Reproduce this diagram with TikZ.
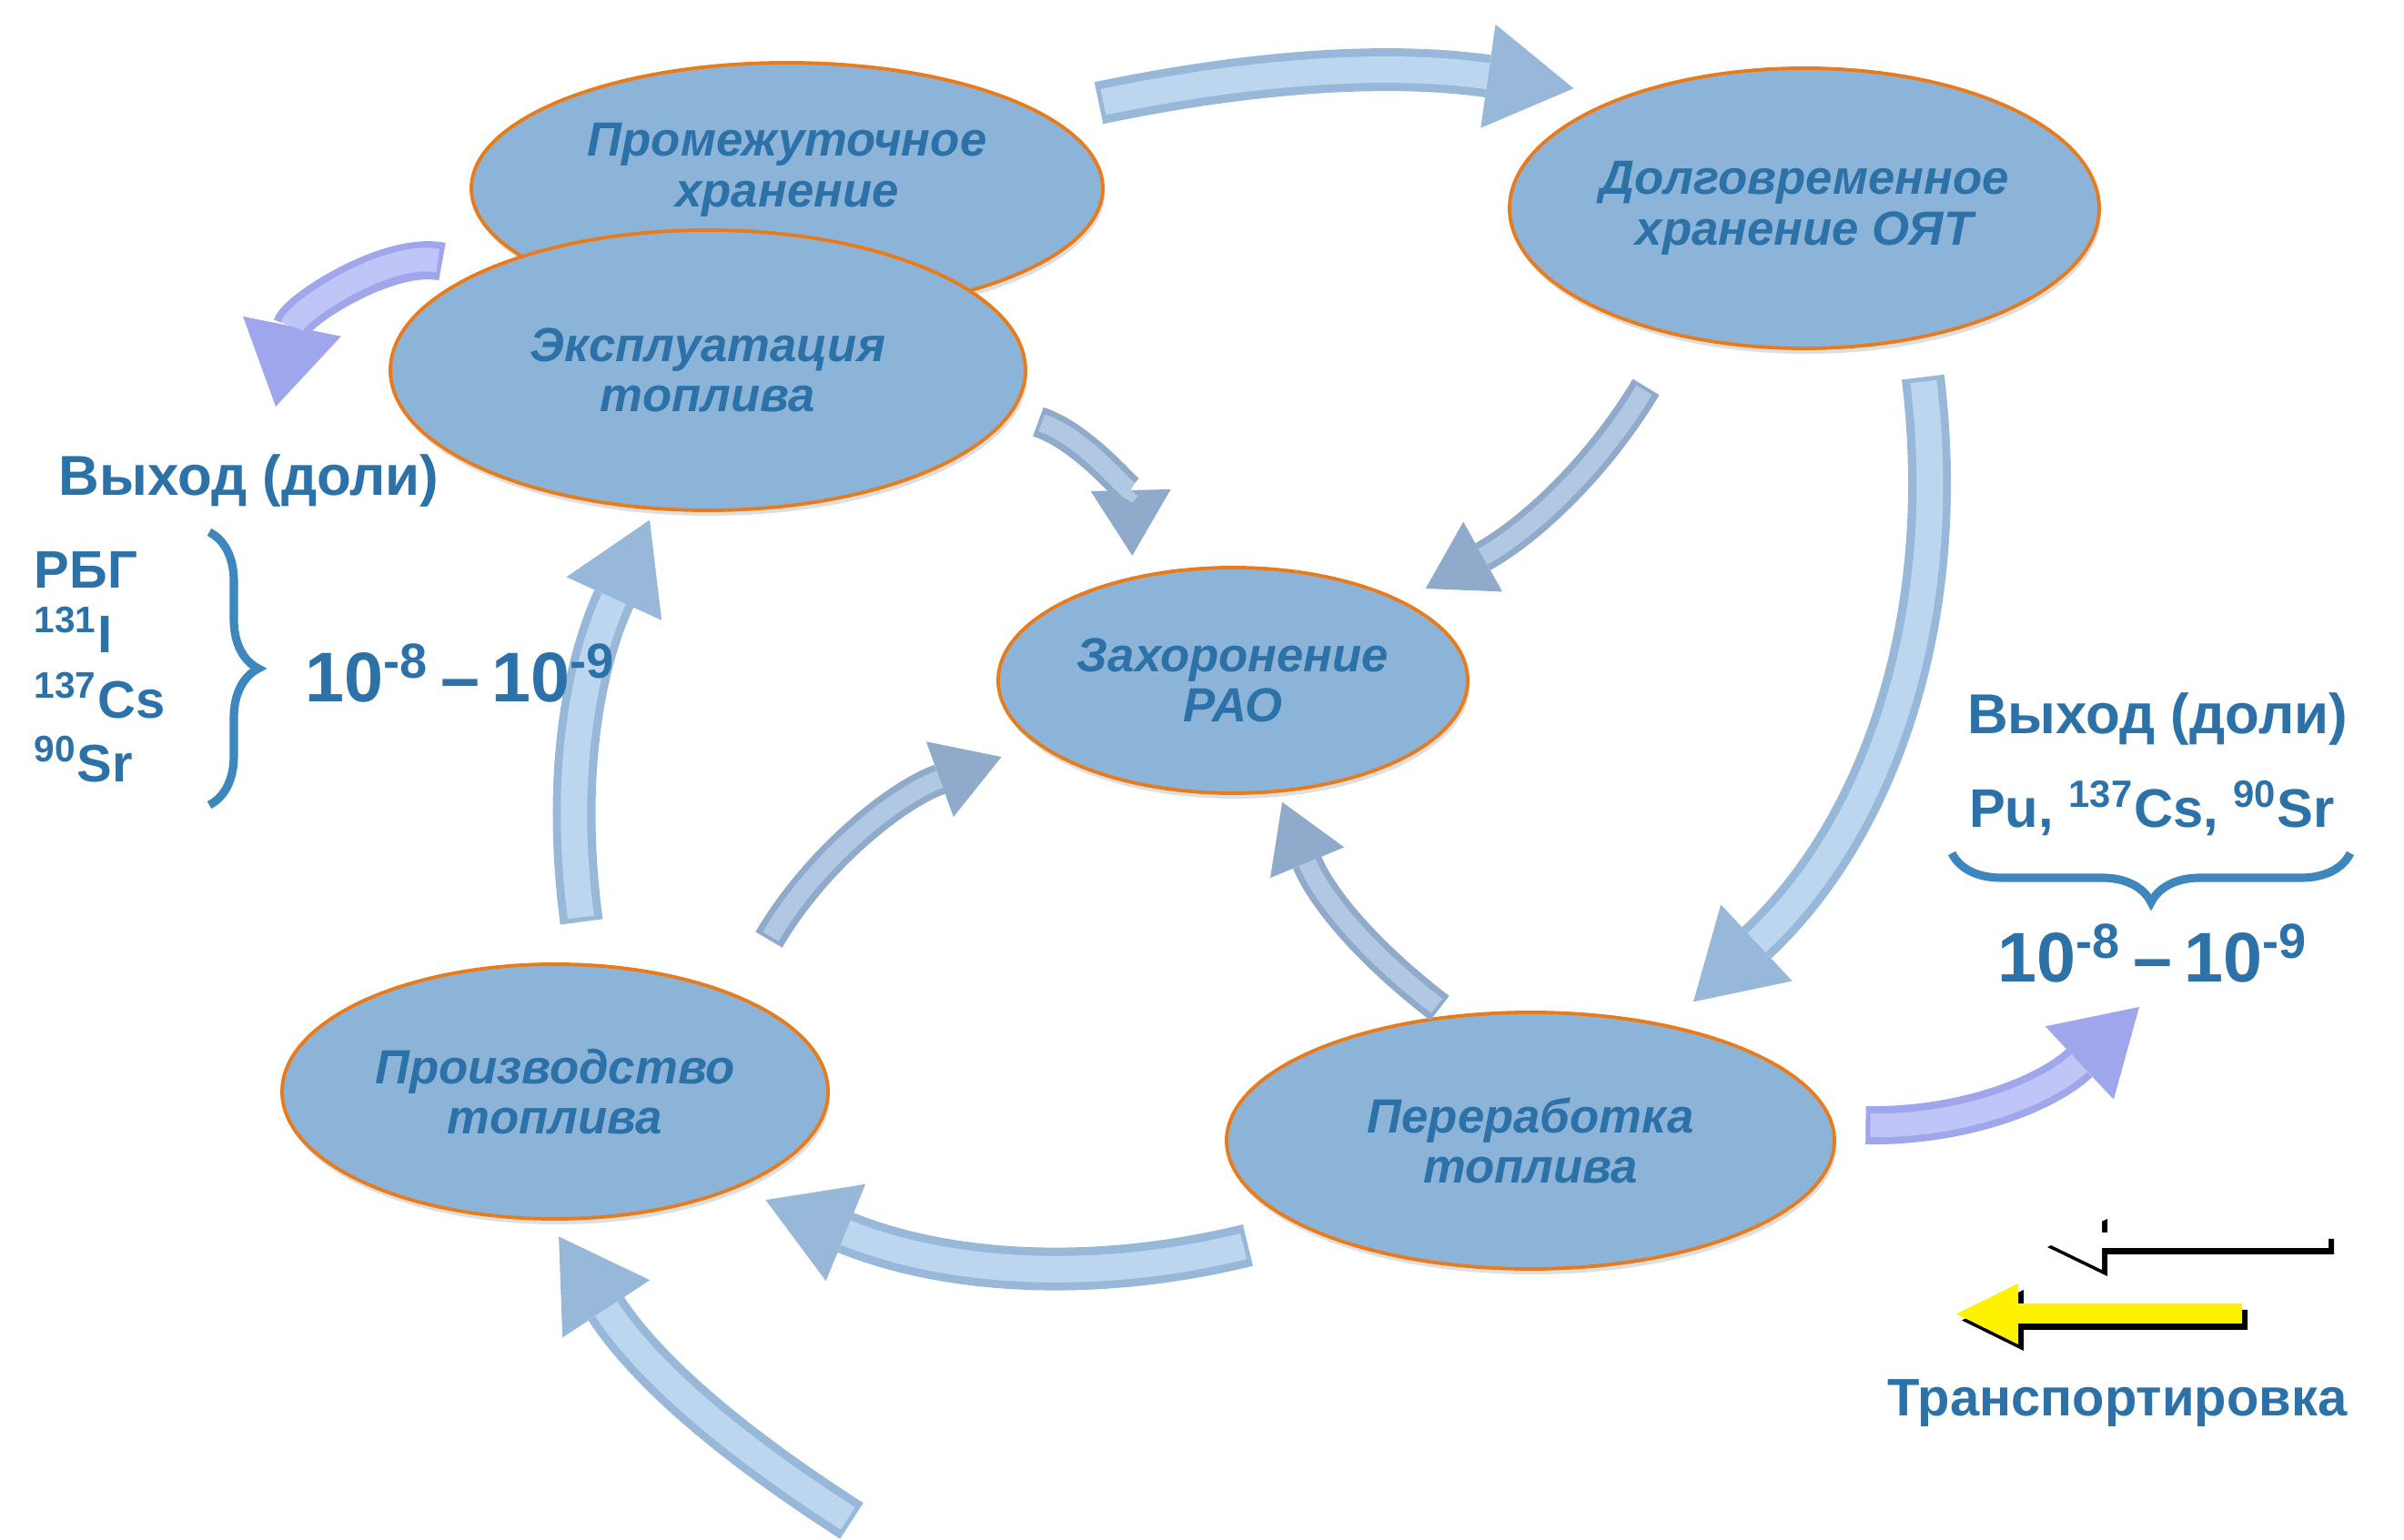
\documentclass[tikz,border=0pt]{standalone}
\usepackage{fontspec}
\setmainfont{Liberation Sans}
\usetikzlibrary{shapes.geometric,arrows.meta,decorations.pathreplacing,shadows}
\definecolor{txtblue}{RGB}{44,114,168}
\definecolor{brblue}{RGB}{62,134,190}
\definecolor{cellfill}{RGB}{140,180,216}
\definecolor{cellline}{RGB}{232,124,28}
\definecolor{flowedge}{RGB}{152,184,218}
\definecolor{flowcore}{RGB}{188,214,240}
\definecolor{smalledge}{RGB}{143,170,202}
\definecolor{smallcore}{RGB}{176,200,226}
\definecolor{lavedge}{RGB}{160,166,236}
\definecolor{lavcore}{RGB}{192,197,248}
\tikzset{
  stage/.style={ellipse, draw=cellline, line width=1.1pt, fill=cellfill, inner sep=0pt,
    drop shadow={shadow xshift=0.02cm, shadow yshift=-0.06cm, opacity=0.25},
    font=\fontsize{15}{15.8}\selectfont\bfseries\itshape, text=txtblue, align=center},
  stagetxt/.style={font=\fontsize{15}{15.8}\selectfont\bfseries\itshape, text=txtblue, align=center},
  flow/.style 2 args={draw=flowedge, line width=0.47cm, shorten <=#1, shorten >=#2,
    -{Triangle[length=0.95cm,width=1.15cm,line width=0pt]},
    postaction={draw=flowcore, line width=0.29cm, -, shorten <=#1+0.05cm, shorten >=#2+0.95cm}},
  flowsmall/.style 2 args={draw=smalledge, line width=0.34cm, shorten <=#1, shorten >=#2,
    -{Triangle[length=0.72cm,width=0.88cm,line width=0pt]},
    postaction={draw=smallcore, line width=0.2cm, -, shorten <=#1+0.04cm, shorten >=#2+0.72cm}},
  outflow/.style 2 args={draw=lavedge, line width=0.42cm, shorten <=#1, shorten >=#2,
    -{Triangle[length=0.9cm,width=1.1cm,line width=0pt]},
    postaction={draw=lavcore, line width=0.26cm, -, shorten <=#1+0.05cm, shorten >=#2+0.9cm}},
  yieldlbl/.style={font=\fontsize{17.6}{19}\selectfont\bfseries, text=txtblue, inner sep=0pt},
  listlbl/.style={font=\fontsize{16.5}{18}\selectfont\bfseries, text=txtblue, inner sep=0pt},
  powerlbl/.style={font=\fontsize{22}{25}\selectfont\bfseries, text=txtblue, inner sep=0pt},
  bracket/.style={draw=brblue, line width=2.6pt, decorate, decoration={brace, amplitude=0.54cm}}
}

\begin{document}
\begin{tikzpicture}
  \useasboundingbox (0,0) rectangle (26.42,16.92);
  % stages of the cycle
  \node[stage, minimum width=6.94cm, minimum height=2.76cm] (store) at (8.65,14.85) {};
  \node[stagetxt] (storetxt) at (8.65,15.05) {Промежуточное\\хранение};
  \node[stage, minimum width=6.98cm, minimum height=3.08cm] (react) at (7.78,12.85) {Эксплуатация\\топлива};
  \node[stage, minimum width=6.48cm, minimum height=3.08cm] (longst) at (19.83,14.63) {Долговременное\\хранение ОЯТ};
  \node[stage, minimum width=5.16cm, minimum height=2.48cm] (bury) at (13.55,9.44) {Захоронение\\РАО};
  \node[stage, minimum width=6.00cm, minimum height=2.80cm] (fab) at (6.10,4.92) {Производство\\топлива};
  \node[stage, minimum width=6.68cm, minimum height=2.82cm] (repro) at (16.82,4.38) {Переработка\\топлива};
  \coordinate (outL) at (3.03,12.45);
  \coordinate (outR) at (23.51,5.85);
  \coordinate (inB) at (9.36,0.20);
  % flows
  \draw[flow={0.6cm}{0.56cm}] (store.16.5) to[bend left=10] (longst.148.7);
  \draw[outflow={0.45cm}{0cm}] (react.156) to[bend right=45] (outL);
  \draw[flowsmall={0.3cm}{0.23cm}] (react.-8) to[bend left=35] (bury.134.3);
  \draw[flowsmall={0.65cm}{0.28cm}] (longst.225.2) to[bend left=15] (bury.25.3);
  \draw[flow={0.42cm}{0.37cm}] (longst.-49.8) to[bend left=27] (repro.40.3);
  \draw[flowsmall={0.13cm}{0.11cm}] (repro.123.7) to[bend left=15] (bury.-68.5);
  \draw[flowsmall={0.7cm}{0.41cm}] (fab.28.5) to[bend left=20] (bury.198.3);
  \draw[flow={0.46cm}{0.12cm}] (fab.76.3) to[bend left=16] (react.249.2);
  \draw[flow={0.69cm}{0.34cm}] (repro.202.1) to[bend left=18] (fab.-28.8);
  \draw[flow={0cm}{0.21cm}] (inB) to[bend left=12] (fab.267.5);
  \draw[outflow={0.35cm}{0cm}] (repro.3.8) to[bend right=22] (outR);
  % releases, left
  \node[yieldlbl, anchor=base west] (outLtxt) at (0.64,11.47) {Выход (доли)};
  \node[listlbl, anchor=base west] (rbg) at (0.37,10.45) {РБГ};
  \node[listlbl, anchor=base west] (iod) at (0.37,9.74) {\textsuperscript{131}I};
  \node[listlbl, anchor=base west] (cs) at (0.37,9.02) {\textsuperscript{137}Cs};
  \node[listlbl, anchor=base west] (sr) at (0.37,8.32) {\textsuperscript{90}Sr};
  \draw[bracket] (2.30,11.07) -- (2.30,8.07);
  \node[powerlbl, anchor=base west] (powL) at (3.35,9.20) {10\textsuperscript{-8}\,–\,10\textsuperscript{-9}};
  % releases, right
  \node[yieldlbl, anchor=base] (outRtxt) at (23.71,8.85) {Выход (доли)};
  \node[yieldlbl, font=\fontsize{17}{19}\selectfont\bfseries, anchor=base] (nucl) at (23.65,7.82) {Pu, \textsuperscript{137}Cs, \textsuperscript{90}Sr};
  \draw[bracket] (25.83,7.54) -- (21.45,7.54);
  \node[powerlbl, anchor=base] (powR) at (23.66,6.12) {10\textsuperscript{-8}\,–\,10\textsuperscript{-9}};
  % legend
  \fill[black, shift={(0.06,-0.07)}] (25.59,3.37) -- (23.10,3.37) -- (23.10,3.59) -- (22.44,3.28)
    -- (23.10,2.96) -- (23.10,3.20) -- (25.59,3.20) -- cycle;
  \fill[white] (25.59,3.37) -- (23.10,3.37) -- (23.10,3.59) -- (22.44,3.28)
    -- (23.10,2.96) -- (23.10,3.20) -- (25.59,3.20) -- cycle;
  \fill[black, shift={(0.06,-0.07)}] (24.64,2.59) -- (22.18,2.59) -- (22.18,2.81) -- (21.50,2.475)
    -- (22.18,2.14) -- (22.18,2.37) -- (24.64,2.37) -- cycle;
  \fill[yellow] (24.64,2.59) -- (22.18,2.59) -- (22.18,2.81) -- (21.50,2.475)
    -- (22.18,2.14) -- (22.18,2.37) -- (24.64,2.37) -- cycle;
  \node[listlbl, anchor=base] (transp) at (23.27,1.35) {Транспортировка};
\end{tikzpicture}
\end{document}
